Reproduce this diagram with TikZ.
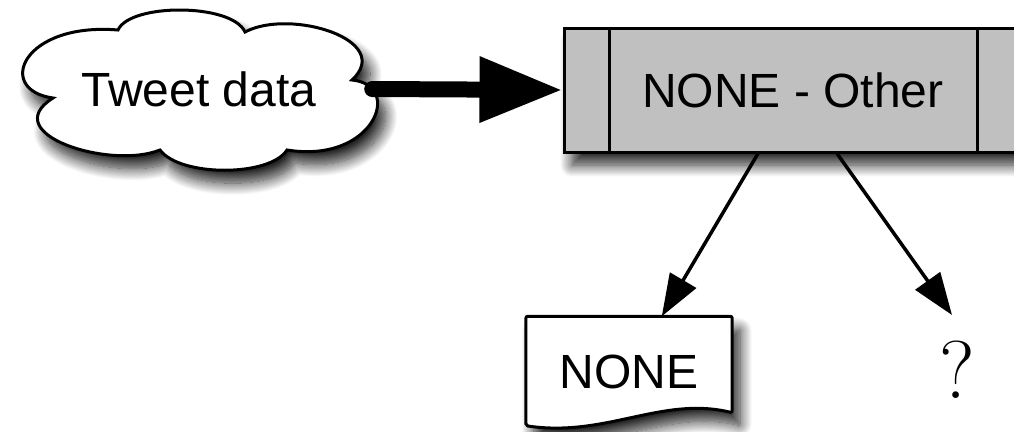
\documentclass[tikz,border=0pt]{standalone}
\usepackage{fontspec}
\newfontfamily\helv{Liberation Sans}
\usetikzlibrary{shadows.blur,arrows.meta,calc}
\pgfdeclarelayer{background}
\pgfsetlayers{background,main}

\tikzset{
  soft shadow/.style={blur shadow={shadow xshift=8pt, shadow yshift=-13pt,
      shadow blur radius=12pt, shadow blur steps=16, shadow opacity=85}},
  outline/.style={draw=black, line width=3pt},
  label font/.style={font=\helv\fontsize{48}{48}\selectfont},
  cloudbox/.style={rectangle, label font, minimum width=370pt,
      minimum height=153pt, inner sep=0pt},
  cloudshape/.style={outline, fill=white, soft shadow},
  procbox/.style={rectangle, outline, fill=procgray, soft shadow, label font,
      minimum width=458pt, minimum height=124pt, inner sep=0pt},
  docnode/.style={rectangle, label font, minimum width=206pt,
      minimum height=111pt, inner sep=0pt},
  docshape/.style={outline, fill=white, soft shadow, rounded corners=2pt},
  bigarrow/.style={draw=black, line width=16pt, line cap=round,
      -{Triangle[length=83pt, width=62pt, color=black, fill=black]}},
  thinarrow/.style={draw=black, line width=3.5pt,
      -{Triangle[length=42pt, width=30pt, color=black, fill=black]}},
}
\definecolor{procgray}{RGB}{192,192,192}

\begin{document}
\begin{tikzpicture}[x=1pt, y=-1pt]
  \useasboundingbox (0,0) rectangle (1014,431);

  % source cloud: six puffs around the label
  \path[cloudshape] (53pt,-98pt)
      .. controls (-5pt,-90pt) and (22pt,-22pt) .. (118pt,-30pt)
      .. controls (130pt,-3pt) and (232pt,-3pt) .. (245pt,-32pt)
      .. controls (290pt,-8pt) and (395pt,-40pt) .. (352pt,-80pt)
      .. controls (404pt,-85pt) and (374pt,-164pt) .. (287pt,-150pt)
      .. controls (270pt,-177pt) and (180pt,-177pt) .. (160pt,-150pt)
      .. controls (110pt,-170pt) and (-4pt,-134pt) .. (53pt,-98pt)
      -- cycle;
  \node[cloudbox] (cloud) at (199,89) {Tweet data};

  % predefined process box with side bars
  \node[procbox] (proc) at (793,90) {NONE - Other};
  \draw[line width=3pt] ([xshift=47pt]proc.north west) -- ([xshift=47pt]proc.south west);
  \draw[line width=3pt] ([xshift=-46pt]proc.north east) -- ([xshift=-46pt]proc.south east);

  % document output
  \node[docnode] (none) at (629,372) {NONE};
  \begin{pgfonlayer}{background}
    \path[docshape] (none.north west) -- (none.north east)
      -- ([yshift=15pt]none.south east)
      .. controls ([xshift=-70pt,yshift=32pt]none.south east)
      and ([xshift=80pt,yshift=-10pt]none.south west) .. ([yshift=2pt]none.south west)
      -- cycle;
  \end{pgfonlayer}

  % unknown outcome
  \node[inner sep=0pt, font=\fontsize{82}{82}\selectfont] (q) at (957,370) {?};

  % connectors
  \draw[bigarrow] ([xshift=-12pt]cloud.east) -- (proc.west);
  \draw[thinarrow] ([xshift=-35pt]proc.south) -- (none);
  \draw[thinarrow] ([xshift=44pt]proc.south) -- ([xshift=-5pt,yshift=26pt]q.north);
\end{tikzpicture}
\end{document}
